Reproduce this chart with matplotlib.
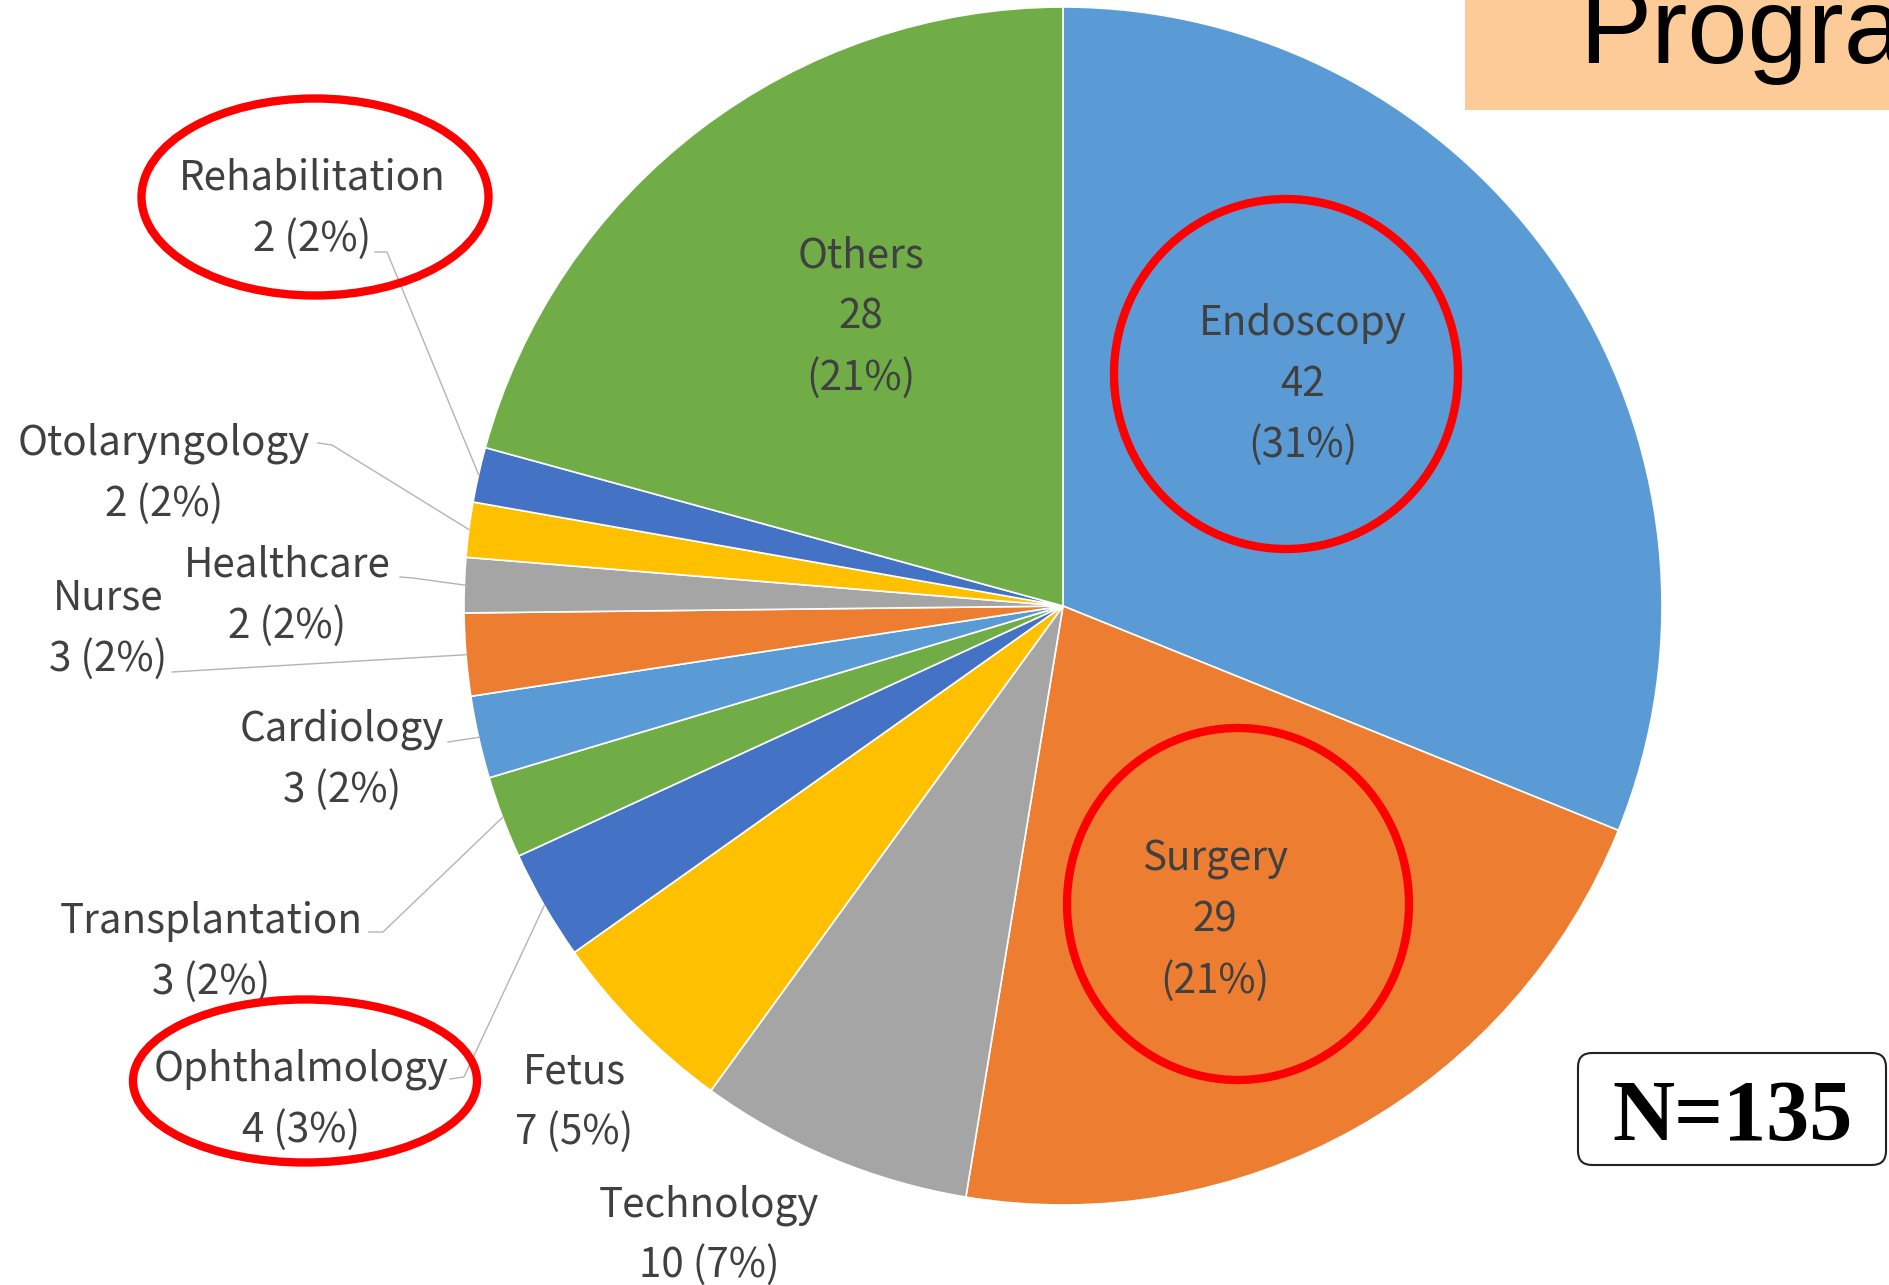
import matplotlib
matplotlib.use("Agg")
import numpy as np
import matplotlib.pyplot as plt
from matplotlib.patches import Ellipse, FancyBboxPatch, Rectangle

plt.rcParams['font.family'] = ['Noto Sans CJK JP', 'DejaVu Sans']

W, H = 1890, 1285

# clockwise from 12 o'clock
categories = ["Endoscopy", "Surgery", "Technology", "Fetus", "Ophthalmology",
              "Transplantation", "Cardiology", "Nurse", "Healthcare",
              "Otolaryngology", "Rehabilitation", "Others"]
counts = [42, 29, 10, 7, 4, 3, 3, 3, 2, 2, 2, 28]
pct_labels = ["31%", "21%", "7%", "5%", "3%", "2%", "2%", "2%", "2%", "2%", "2%", "21%"]
colors = ["#5B9BD5", "#ED7D31", "#A5A5A5", "#FFC000", "#4472C4", "#70AD47",
          "#5B9BD5", "#ED7D31", "#A5A5A5", "#FFC000", "#4472C4", "#70AD47"]
highlighted = ["Endoscopy", "Surgery", "Ophthalmology", "Rehabilitation"]
total_n = 135

# layout (pixel coords, y measured from top)
CX, CY, R = 1063, 606, 599
inside = {"Endoscopy": (1303, 320), "Surgery": (1215, 856), "Others": (861, 253)}
outside = {  # x centre, first baseline, leader start (text side)
    "Technology": (709, 1216, None),
    "Fetus": (574, 1083, None),
    "Ophthalmology": (301, 1081, [(450, 1079), (464, 1077)]),
    "Transplantation": (211, 933, [(369, 932), (383, 932)]),
    "Cardiology": (342, 741, [(448, 742)]),
    "Nurse": (108, 610, [(172, 672)]),
    "Healthcare": (287, 577, [(400, 577), (413, 578)]),
    "Otolaryngology": (164, 455, [(318, 443), (332, 445)]),
    "Rehabilitation": (312, 190, [(375, 252), (387, 252)]),
}
rings = {  # centre x, centre y, width, height
    "Endoscopy": (1286, 374, 344, 350),
    "Surgery": (1238, 904, 342, 352),
    "Ophthalmology": (305, 1081, 344, 163),
    "Rehabilitation": (315, 197, 347, 197),
}


def py(y):
    return H - y


fig = plt.figure(figsize=(W / 100, H / 100), dpi=100)
ax = fig.add_axes([0, 0, 1, 1])

ax.pie(counts, colors=colors, startangle=90, counterclock=False,
       radius=R, center=(CX, py(CY)),
       wedgeprops=dict(edgecolor="white", linewidth=1.2))

txt = dict(color="#404040", fontsize=29, ha="center", va="baseline")
gap = 61

for name, (x, y) in inside.items():
    i = categories.index(name)
    for k, s in enumerate([name, str(counts[i]), "(" + pct_labels[i] + ")"]):
        ax.text(x, py(y + 15 + k * gap), s, **txt)

# mid angles of wedges (degrees, standard orientation)
cum = np.cumsum([0] + counts)
mids = 90 - 360 * (cum[:-1] + cum[1:]) / 2 / total_n

for name, (x, y, lead) in outside.items():
    i = categories.index(name)
    ax.text(x, py(y), name, **txt)
    ax.text(x, py(y + gap), f"{counts[i]} ({pct_labels[i]})", **txt)
    if lead:
        a = np.deg2rad(mids[i])
        ex, ey = CX + R * np.cos(a), py(CY) + R * np.sin(a)
        xs = [p[0] for p in lead] + [ex]
        ys = [py(p[1]) for p in lead] + [ey]
        ax.plot(xs, ys, color="#B4B4B4", lw=1.0, zorder=1)

for name in highlighted:
    x, y, w, h = rings[name]
    ax.add_patch(Ellipse((x, py(y)), w, h, fill=False, edgecolor="#FF0000",
                         lw=6, zorder=5))

# N box
ax.add_patch(FancyBboxPatch((1578, py(1165)), 308, 112,
                            boxstyle="round,pad=0,rounding_size=14",
                            facecolor="white", edgecolor="#222222", lw=1.5, zorder=6))
ax.text(1732, py(1140), f"N={total_n}", family="Liberation Serif", weight="bold",
        fontsize=62, ha="center", va="baseline", color="black", zorder=7)

# title box, cropped at the edge
ax.add_patch(Rectangle((1465, py(110)), 500, 140, facecolor="#FCCB98",
                       edgecolor="none", zorder=6))
ax.text(1579, py(63), "Progra", family="Liberation Sans", fontsize=78,
        ha="left", va="baseline", color="black", zorder=7)

ax.set_xlim(0, W)
ax.set_ylim(0, H)
ax.axis("off")

fig.savefig("out.png", dpi=100)
